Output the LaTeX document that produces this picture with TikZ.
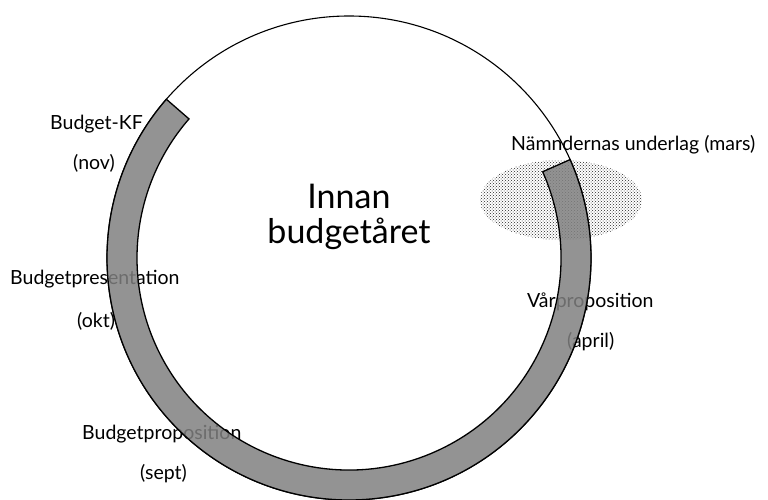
\documentclass[tikz,border=0pt]{standalone}
\usepackage{fontspec}
\setmainfont{Lato}
\usetikzlibrary{patterns, positioning}

\begin{document}
\begin{tikzpicture}[x=1pt, y=1pt,
    every node/.style={inner sep=0pt, font=\fontsize{19.5}{23}\selectfont},
    lbl/.style={anchor=base west},
    title/.style={anchor=base, font=\fontsize{34}{40}\selectfont},
    band/.style={draw=black, line width=1.3pt, fill=black!50, fill opacity=0.85},
    ring/.style={draw=black, line width=1.1pt}]

    \useasboundingbox (0,0) rectangle (768,-500);

    % Haze
    \fill[pattern=crosshatch dots, pattern color=black!85] (561,-200) ellipse[x radius=81, y radius=40];

    % Ring
    \coordinate (c) at (349,-258);
    \draw[ring] (c) circle[radius=242];

    % Nodes
    \node (innan) [title] at (349,-208) {Innan};
    \node (aret) [title] at (349,-243) {budgetåret};

    \node (kf) [lbl] at (50,-130) {Budget-KF};
    \node (nov) [lbl] at (73,-169) {(nov)};
    \node (pres) [lbl] at (10,-284) {Budgetpresentation};
    \node (okt) [lbl] at (77,-327) {(okt)};
    \node (prop) [lbl] at (82,-439) {Budgetproposition};
    \node (sept) [lbl] at (140,-479) {(sept)};
    \node (namnd) [lbl] at (511,-150) {Nämndernas underlag (mars)};
    \node (var) [lbl] at (527,-307) {Vårproposition};
    \node (april) [lbl] at (567,-347) {(april)};

    % Band
    \draw[band, shift={(c)}] (139:242) arc[start angle=139, end angle=384, radius=242]
        -- (384:212) arc[start angle=384, end angle=139, radius=212] -- cycle;

\end{tikzpicture}
\end{document}
